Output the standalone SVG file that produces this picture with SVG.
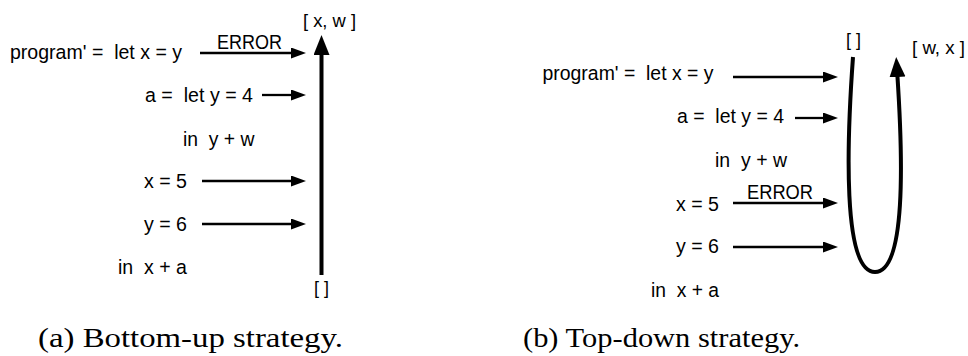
<svg xmlns="http://www.w3.org/2000/svg" width="968" height="356" viewBox="0 0 968 356" xml:space="preserve">
<style>
text { font-family: "Liberation Sans", Arial, sans-serif; fill: #000; white-space: pre; }
.code { font-size: 20.5px; }
.err { font-size: 19.5px; }
.lbl { font-size: 18px; }
.cap { font-family: "Liberation Serif", "Times New Roman", serif; font-size: 27px; }
.arr { fill: none; stroke: #000; stroke-width: 2.3; }
.big { fill: none; stroke: #000; stroke-width: 4; }
</style>
<defs>
<marker id="ah" markerUnits="userSpaceOnUse" markerWidth="17" markerHeight="13" refX="2" refY="5.5" orient="auto">
<path d="M0,0 L15,5.5 L0,11 z" fill="#000"/>
</marker>
<marker id="bh" markerUnits="userSpaceOnUse" markerWidth="22" markerHeight="18" refX="3" refY="8" orient="auto">
<path d="M0,0 L20,8 L0,16 z" fill="#000"/>
</marker>
</defs>

<g id="panel-a">
<g id="a-program"><text class="code" x="10" y="59" textLength="172" lengthAdjust="spacingAndGlyphs">program' =  let x = y</text></g>
<g id="a-a"><text class="code" x="145" y="102" textLength="108" lengthAdjust="spacingAndGlyphs">a =  let y = 4</text></g>
<g id="a-in1"><text class="code" x="183" y="145.5" textLength="71.5" lengthAdjust="spacingAndGlyphs">in  y + w</text></g>
<g id="a-x"><text class="code" x="144" y="188" textLength="43" lengthAdjust="spacingAndGlyphs">x = 5</text></g>
<g id="a-y"><text class="code" x="144" y="231" textLength="43" lengthAdjust="spacingAndGlyphs">y = 6</text></g>
<g id="a-in2"><text class="code" x="118" y="274" textLength="69" lengthAdjust="spacingAndGlyphs">in  x + a</text></g>
<g id="a-top"><text class="lbl" x="303" y="26.5" textLength="53" lengthAdjust="spacingAndGlyphs">[ x, w ]</text></g>
<g id="a-bottom"><text class="lbl" x="321.5" y="294" text-anchor="middle">[ ]</text></g>
<g id="a-error"><text class="err" x="217" y="49" textLength="65" lengthAdjust="spacingAndGlyphs">ERROR</text></g>
</g>

<g id="panel-b">
<g id="b-program"><text class="code" x="542.5" y="80" textLength="171" lengthAdjust="spacingAndGlyphs">program' =  let x = y</text></g>
<g id="b-a"><text class="code" x="677" y="122.5" textLength="107" lengthAdjust="spacingAndGlyphs">a =  let y = 4</text></g>
<g id="b-in1"><text class="code" x="715" y="166.5" textLength="72" lengthAdjust="spacingAndGlyphs">in  y + w</text></g>
<g id="b-x"><text class="code" x="676" y="210.5" textLength="43" lengthAdjust="spacingAndGlyphs">x = 5</text></g>
<g id="b-y"><text class="code" x="676" y="252.5" textLength="43" lengthAdjust="spacingAndGlyphs">y = 6</text></g>
<g id="b-in2"><text class="code" x="651" y="296.5" textLength="68" lengthAdjust="spacingAndGlyphs">in  x + a</text></g>
<g id="b-start"><text class="lbl" x="853.5" y="46" text-anchor="middle">[ ]</text></g>
<g id="b-end"><text class="lbl" x="912" y="54" textLength="53" lengthAdjust="spacingAndGlyphs">[ w, x ]</text></g>
<g id="b-error"><text class="err" x="747" y="199" textLength="66" lengthAdjust="spacingAndGlyphs">ERROR</text></g>
</g>

<g id="connectors">
<line class="arr" x1="200" y1="53" x2="293" y2="53" marker-end="url(#ah)"/>
<line class="arr" x1="262" y1="95" x2="293" y2="95" marker-end="url(#ah)"/>
<line class="arr" x1="202" y1="181" x2="293" y2="181" marker-end="url(#ah)"/>
<line class="arr" x1="202" y1="224" x2="293" y2="224" marker-end="url(#ah)"/>
<line class="big" x1="321.5" y1="275" x2="321.5" y2="52" marker-end="url(#bh)"/>

<line class="arr" x1="733" y1="77" x2="825" y2="77" marker-end="url(#ah)"/>
<line class="arr" x1="795" y1="118" x2="825" y2="118" marker-end="url(#ah)"/>
<line class="arr" x1="733" y1="203" x2="825" y2="203" marker-end="url(#ah)"/>
<line class="arr" x1="733" y1="247" x2="825" y2="247" marker-end="url(#ah)"/>
<path class="big" d="M853,57 C847,140 842,272 875,272 C906,272 903,160 897.3,74" marker-end="url(#bh)"/>
</g>

<g id="captions">
<text class="cap" x="38" y="347" textLength="305" lengthAdjust="spacingAndGlyphs">(a) Bottom-up strategy.</text>
<text class="cap" x="523" y="347" textLength="277" lengthAdjust="spacingAndGlyphs">(b) Top-down strategy.</text>
</g>
</svg>
